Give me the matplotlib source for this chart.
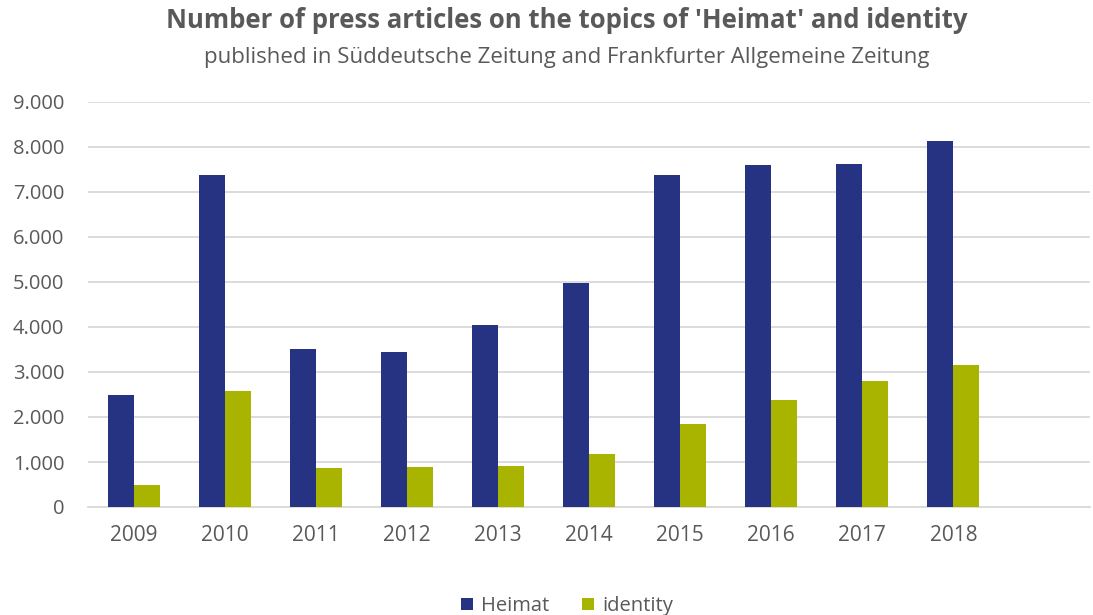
import numpy as np
import matplotlib.pyplot as plt
from matplotlib.ticker import FuncFormatter

plt.rcParams['font.family'] = ['Open Sans', 'DejaVu Sans']

years = ['2009', '2010', '2011', '2012', '2013', '2014', '2015', '2016', '2017', '2018']
heimat = [2490, 7380, 3510, 3440, 4040, 4980, 7380, 7600, 7620, 8130]
identity = [490, 2580, 870, 890, 910, 1180, 1840, 2380, 2810, 3160]

blue = '#263282'
green = '#a8b400'
grey = '#595959'

fig = plt.figure(figsize=(10.93, 6.15), dpi=100)
ax = fig.add_axes([88 / 1093, 1 - 507 / 615, 1002 / 1093, 405 / 615])

x = np.arange(len(years))
w = 0.285
ax.bar(x - w / 2, heimat, w, color=blue, label='Heimat', zorder=3)
ax.bar(x + w / 2, identity, w, color=green, label='identity', zorder=3)

ax.set_xlim(-0.5, 10.5)
ax.set_ylim(0, 9000)
ax.set_yticks(range(0, 9001, 1000))
ax.yaxis.set_major_formatter(FuncFormatter(lambda v, p: f'{int(v):,}'.replace(',', '.')))
ax.set_xticks(x)
ax.set_xticklabels(years)
ax.grid(axis='y', color='#d9d9d9', linewidth=1.3, zorder=0)
for s in ['top', 'right', 'left']:
    ax.spines[s].set_visible(False)
ax.spines['bottom'].set_color('#d9d9d9')
ax.spines['bottom'].set_linewidth(1.3)
ax.tick_params(length=0, labelsize=14.5, colors=grey)
ax.tick_params(axis='x', labelsize=15, pad=13)
ax.tick_params(axis='y', pad=17)

cx = 567 / 1093
fig.text(cx, 1 - 20 / 615, "Number of press articles on the topics of 'Heimat' and identity",
         ha='center', va='center', fontsize=18.5, fontweight='bold', color=grey)
fig.text(cx, 1 - 58 / 615, 'published in Süddeutsche Zeitung and Frankfurter Allgemeine Zeitung',
         ha='center', va='center', fontsize=16, color=grey)

fig.legend(loc='center', bbox_to_anchor=(cx, 1 - 606 / 615), ncol=2, frameon=False,
           fontsize=14.5, labelcolor=grey, handlelength=0.6, handleheight=0.6,
           columnspacing=1.6, handletextpad=0.4)

fig.savefig('out.png', dpi=100)
